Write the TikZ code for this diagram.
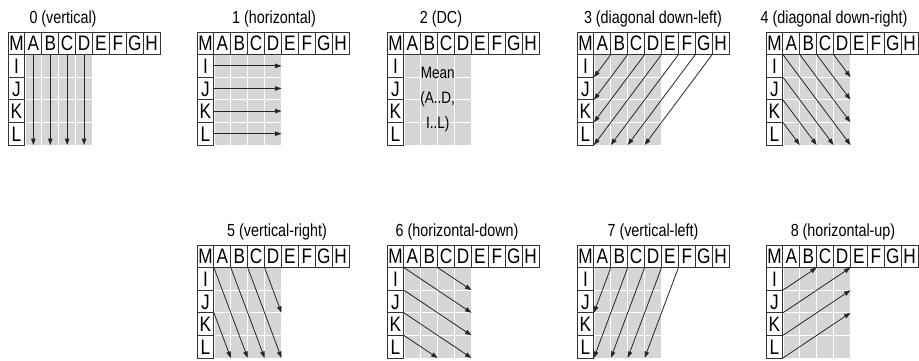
\documentclass[tikz,border=0pt]{standalone}
\usepackage{fontspec}
\setmainfont[FakeStretch=0.82]{Liberation Sans}
\usetikzlibrary{arrows.meta}

\tikzstyle{cell}=[rectangle, draw=black!80, line width=0.9pt, fill=white, anchor=north west, minimum width=16.9pt, minimum height=22.6pt, inner sep=0pt, outer sep=0pt, text height=15pt, text depth=0pt, font=\fontsize{21}{21}\selectfont]
\tikzstyle{pred}=[rectangle, fill=black!16, draw=white, line width=0.8pt, anchor=north west, minimum width=16.9pt, minimum height=22.6pt, inner sep=0pt, outer sep=0pt]
\tikzstyle{ray}=[draw=black!85, line width=0.8pt, -{Triangle[length=6.5pt,width=4.5pt]}]
\tikzstyle{modename}=[inner sep=0pt, font=\fontsize{17.5}{17.5}\selectfont]

% one prediction panel: name, x, y, title offset, title
\newcommand{\gridpanel}[5]{%
  \node[modename] (#1-title) at (#2+#4, #3-13.5) {#5};
  \foreach \row in {1,...,4}
    \foreach \col in {1,...,4}
      \node[pred] (#1-\row-\col) at (#2+\col*16.9, #3+\row*22.6) {};
  \node[cell] (#1-M) at (#2, #3) {M};
  \foreach \ltr [count=\col] in {A,B,C,D,E,F,G,H}
    \node[cell] (#1-\ltr) at (#2+\col*16.9, #3) {\ltr};
  \foreach \ltr [count=\row] in {I,J,K,L}
    \node[cell] (#1-\ltr) at (#2, #3+\row*22.6) {\ltr};
}

\begin{document}
\begin{tikzpicture}[x=1pt, y=-1pt]
    \useasboundingbox (0,0) rectangle (919,361);

    \gridpanel{p0}{8}{32}{55}{0 (vertical)}
    \gridpanel{p1}{197}{32}{77}{1 (horizontal)}
    \gridpanel{p2}{387}{32}{54}{2 (DC)}
    \gridpanel{p3}{577}{32}{76}{3 (diagonal down-left)}
    \gridpanel{p4}{766}{32}{68}{4 (diagonal down-right)}
    \gridpanel{p5}{197}{245}{80}{5 (vertical-right)}
    \gridpanel{p6}{387}{245}{70}{6 (horizontal-down)}
    \gridpanel{p7}{577}{245}{76}{7 (vertical-left)}
    \gridpanel{p8}{766}{245}{77}{8 (horizontal-up)}

    % 0 and 1
    \foreach \col in {1,...,4}
        \draw[ray] (p0-1-\col.north) -- (p0-4-\col.south);
    \foreach \row in {1,...,4}
        \draw[ray] (p1-\row-1.west) -- (p1-\row-4.east);

    % 2
    \node[font=\fontsize{16.5}{25}\selectfont, align=center, inner sep=0pt] (p2-mean) at (p2-2-2.south east) {Mean\\(A..D,\\I..L)};

    % 3 and 7
    \foreach \from/\to in {A/1-1, B/2-1, C/3-1, D/4-1, E/4-2, F/4-3, G/4-4}
        \draw[ray] (p3-\from.south east) -- (p3-\to.south west);
    \foreach \from/\to in {A/2-1, B/4-1, C/4-2, D/4-3, E/4-4}
        \draw[ray] (p7-\from.south east) -- (p7-\to.south west);

    % 4, 5 and 6
    \foreach \from/\to in {1-4/1-4, 1-3/2-4, 1-2/3-4, 1-1/4-4, 2-1/4-3, 3-1/4-2, 4-1/4-1}
        \draw[ray] (p4-\from.north west) -- (p4-\to.south east);
    \foreach \from/\to in {1-1/4-2, 1-2/4-3, 1-3/4-4, 1-4/2-4, 3-1/4-1}
        \draw[ray] (p5-\from.north west) -- (p5-\to.south east);
    \foreach \from/\to in {1-1/2-4, 1-3/1-4, 2-1/3-4, 3-1/4-4, 4-1/4-2}
        \draw[ray] (p6-\from.north west) -- (p6-\to.south east);

    % 8
    \foreach \from/\to in {I/1-2, J/1-4, K/2-4, L/3-4}
        \draw[ray] (p8-\from.south east) -- (p8-\to.north east);
\end{tikzpicture}
\end{document}
